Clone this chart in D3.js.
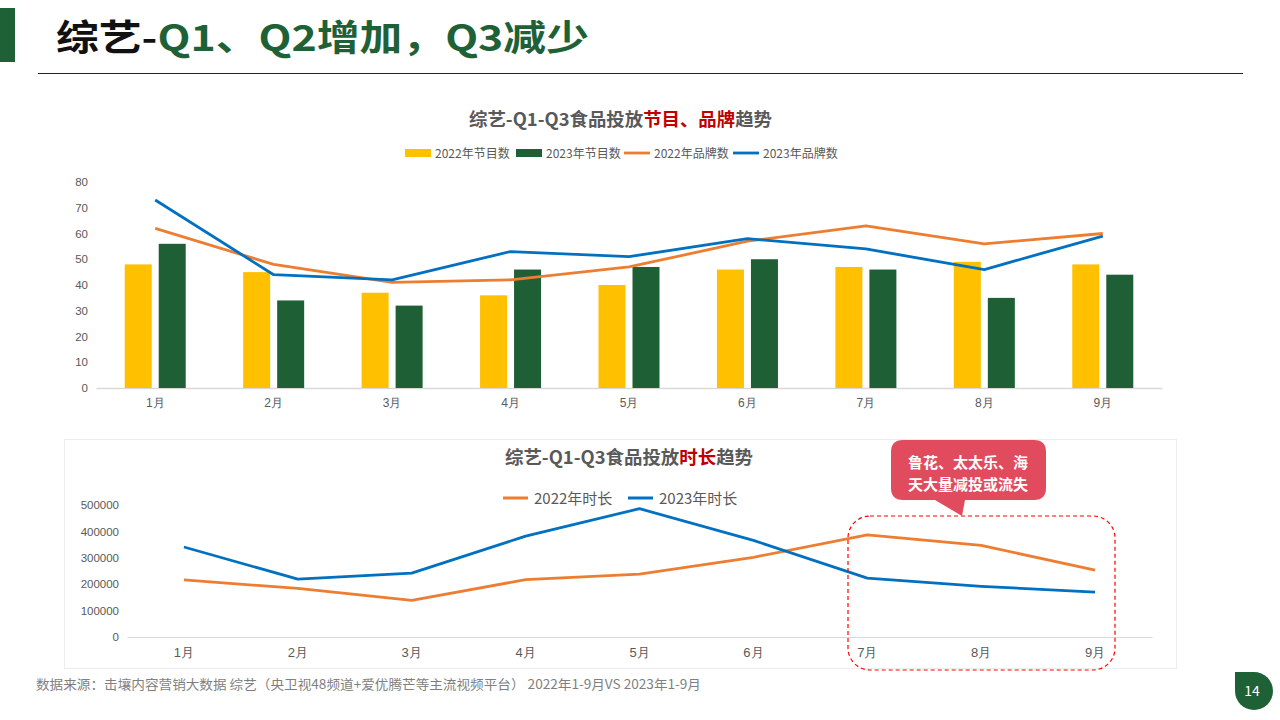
<!DOCTYPE html>
<html><head><meta charset="utf-8">
<script src="https://cdn.jsdelivr.net/npm/d3@7"></script>
<style>
body{margin:0;background:#fff;}
svg{display:block;font-family:"Noto Sans CJK SC","Noto Sans",sans-serif;}
</style></head>
<body>
<svg id="c" width="1280" height="720"></svg>
<script>
const months = ["1月","2月","3月","4月","5月","6月","7月","8月","9月"];
const shows2022 = [48,45,37,36,40,46,47,49,48];
const shows2023 = [56,34,32,46,47,50,46,35,44];
const brands2022 = [62,48,41,42,47,57,63,56,60];
const brands2023 = [73,44,42,53,51,58,54,46,59];
const topTicks = [0,10,20,30,40,50,60,70,80];
const dur2022 = [216000,184000,139000,217000,238000,302000,387000,347000,253000];
const dur2023 = [341000,219000,242000,382000,486000,366000,223000,192000,170000];
const botTicks = [0,100000,200000,300000,400000,500000];

const C = {yellow:"#FFC000", green:"#1F5F36", orange:"#ED7D31", blue:"#0070C0", text:"#595959", red:"#C00000"};
const svg = d3.select("#c");

// Header
svg.append("rect").attr("x",0).attr("y",8).attr("width",15).attr("height",54).attr("fill","#1F6136");
const ht = svg.append("text").attr("x",56).attr("y",51).attr("font-size",36).attr("font-weight","bold")
  .attr("textLength",533).attr("lengthAdjust","spacingAndGlyphs");
ht.append("tspan").attr("fill","#111").text("综艺-");
ht.append("tspan").attr("fill","#1F6136").text("Q1、Q2增加，Q3减少");
svg.append("line").attr("x1",38).attr("x2",1243).attr("y1",73.5).attr("y2",73.5).attr("stroke","#222").attr("stroke-width",1.2);

// ---------- Top chart ----------
const x1 = d3.scaleBand().domain(months).range([96,1162]);
const y1 = d3.scaleLinear().domain([0,80]).range([388,182]);
const g1 = svg.append("g");
const t1 = g1.append("text").attr("x",469).attr("y",126).attr("font-size",18).attr("font-weight","bold").attr("fill",C.text)
  .attr("textLength",303).attr("lengthAdjust","spacingAndGlyphs");
t1.append("tspan").text("综艺-Q1-Q3食品投放");
t1.append("tspan").attr("fill",C.red).text("节目、品牌");
t1.append("tspan").text("趋势");

// y axis labels
const ya1 = g1.append("g").attr("transform","translate(88,0)")
  .call(d3.axisLeft(y1).tickValues(topTicks).tickSize(0).tickPadding(0));
ya1.select(".domain").remove();
ya1.selectAll("text").attr("fill",C.text).attr("font-size",11.5).attr("font-family","Liberation Sans, Arial, sans-serif");

const xa1 = g1.append("g").attr("transform","translate(0,388)")
  .call(d3.axisBottom(x1).tickSize(0).tickPadding(10));
xa1.select(".domain").attr("stroke","#D9D9D9").attr("stroke-width",1.5);
xa1.selectAll("text").attr("fill",C.text).attr("font-size",12);

const bw = 27, off = 17;
g1.selectAll(".b22").data(months).join("rect")
  .attr("x",d=>x1(d)+x1.bandwidth()/2-off-bw/2).attr("width",bw)
  .attr("y",(d,i)=>y1(shows2022[i])).attr("height",(d,i)=>y1(0)-y1(shows2022[i])).attr("fill",C.yellow);
g1.selectAll(".b23").data(months).join("rect")
  .attr("x",d=>x1(d)+x1.bandwidth()/2+off-bw/2).attr("width",bw)
  .attr("y",(d,i)=>y1(shows2023[i])).attr("height",(d,i)=>y1(0)-y1(shows2023[i])).attr("fill",C.green);
const ln1 = d3.line().x((d,i)=>x1(months[i])+x1.bandwidth()/2).y(d=>y1(d));
g1.append("path").attr("d",ln1(brands2022)).attr("fill","none").attr("stroke",C.orange).attr("stroke-width",2.8).attr("stroke-linejoin","round");
g1.append("path").attr("d",ln1(brands2023)).attr("fill","none").attr("stroke",C.blue).attr("stroke-width",2.8).attr("stroke-linejoin","round");

// legend top
const leg1 = [
  {t:"2022年节目数", c:C.yellow, type:"rect", x:405},
  {t:"2023年节目数", c:C.green, type:"rect", x:516},
  {t:"2022年品牌数", c:C.orange, type:"line", x:624},
  {t:"2023年品牌数", c:C.blue, type:"line", x:733}
];
leg1.forEach(l=>{
  if(l.type==="rect") g1.append("rect").attr("x",l.x).attr("y",149).attr("width",26).attr("height",8).attr("fill",l.c);
  else g1.append("line").attr("x1",l.x).attr("x2",l.x+26).attr("y1",153).attr("y2",153).attr("stroke",l.c).attr("stroke-width",2.8);
  g1.append("text").attr("x",l.x+30).attr("y",157.5).attr("font-size",12).attr("fill",C.text).text(l.t);
});

// ---------- Bottom chart ----------
const g2 = svg.append("g");
g2.append("rect").attr("x",64.5).attr("y",439.5).attr("width",1112).attr("height",229).attr("fill","#fff").attr("stroke","#EDEDED");
const x2 = d3.scaleBand().domain(months).range([127,1152]);
const y2 = d3.scaleLinear().domain([0,500000]).range([637,505]);
const t2 = g2.append("text").attr("x",505).attr("y",464).attr("font-size",18).attr("font-weight","bold").attr("fill",C.text)
  .attr("textLength",248).attr("lengthAdjust","spacingAndGlyphs");
t2.append("tspan").text("综艺-Q1-Q3食品投放");
t2.append("tspan").attr("fill",C.red).text("时长");
t2.append("tspan").text("趋势");

const ya2 = g2.append("g").attr("transform","translate(119,0)")
  .call(d3.axisLeft(y2).tickValues(botTicks).tickSize(0).tickPadding(0).tickFormat(d3.format("d")));
ya2.select(".domain").remove();
ya2.selectAll("text").attr("fill",C.text).attr("font-size",11.5).attr("font-family","Liberation Sans, Arial, sans-serif");
const xa2 = g2.append("g").attr("transform","translate(0,637)")
  .call(d3.axisBottom(x2).tickSize(0).tickPadding(11));
xa2.select(".domain").attr("stroke","#D9D9D9").attr("stroke-width",1.2);
xa2.selectAll("text").attr("fill",C.text).attr("font-size",13);

const ln2 = d3.line().x((d,i)=>x2(months[i])+x2.bandwidth()/2).y(d=>y2(d));
g2.append("path").attr("d",ln2(dur2022)).attr("fill","none").attr("stroke",C.orange).attr("stroke-width",2.8).attr("stroke-linejoin","round");
g2.append("path").attr("d",ln2(dur2023)).attr("fill","none").attr("stroke",C.blue).attr("stroke-width",2.8).attr("stroke-linejoin","round");

const leg2 = [{t:"2022年时长",c:C.orange,x:503},{t:"2023年时长",c:C.blue,x:628}];
leg2.forEach(l=>{
  g2.append("line").attr("x1",l.x).attr("x2",l.x+25).attr("y1",498).attr("y2",498).attr("stroke",l.c).attr("stroke-width",3);
  g2.append("text").attr("x",l.x+31).attr("y",504).attr("font-size",15).attr("fill",C.text).text(l.t);
});

// dashed highlight
g2.append("rect").attr("x",848).attr("y",516).attr("width",267).attr("height",154).attr("rx",22)
  .attr("fill","none").attr("stroke","#FF0000").attr("stroke-width",1.2).attr("stroke-dasharray","4,3");

// callout
svg.append("path").attr("d","M891,452 Q891,440 903,440 L1034,440 Q1046,440 1046,452 L1046,488 Q1046,500 1034,500 L965,500 L962,516 L935,500 L903,500 Q891,500 891,488 Z")
  .attr("fill","#E14B5E");
svg.append("text").attr("x",968).attr("y",468).attr("text-anchor","middle").attr("font-size",15).attr("font-weight","bold").attr("fill","#fff").text("鲁花、太太乐、海");
svg.append("text").attr("x",968).attr("y",490).attr("text-anchor","middle").attr("font-size",15).attr("font-weight","bold").attr("fill","#fff").text("天大量减投或流失");

// footer
svg.append("text").attr("x",36).attr("y",689).attr("font-size",13).attr("fill","#7F7F7F").attr("textLength",665).attr("lengthAdjust","spacingAndGlyphs")
  .text("数据来源：击壤内容营销大数据 综艺（央卫视48频道+爱优腾芒等主流视频平台） 2022年1-9月VS 2023年1-9月");

// page number
svg.append("path").attr("d","M1235,672 L1254,672 A19,19 0 0 1 1273,691 A19,19 0 0 1 1254,710 A19,19 0 0 1 1235,691 Z").attr("fill","#1F6136");
svg.append("text").attr("x",1252).attr("y",696).attr("text-anchor","middle").attr("font-size",14).attr("fill","#fff").text("14");
</script>
</body></html>
